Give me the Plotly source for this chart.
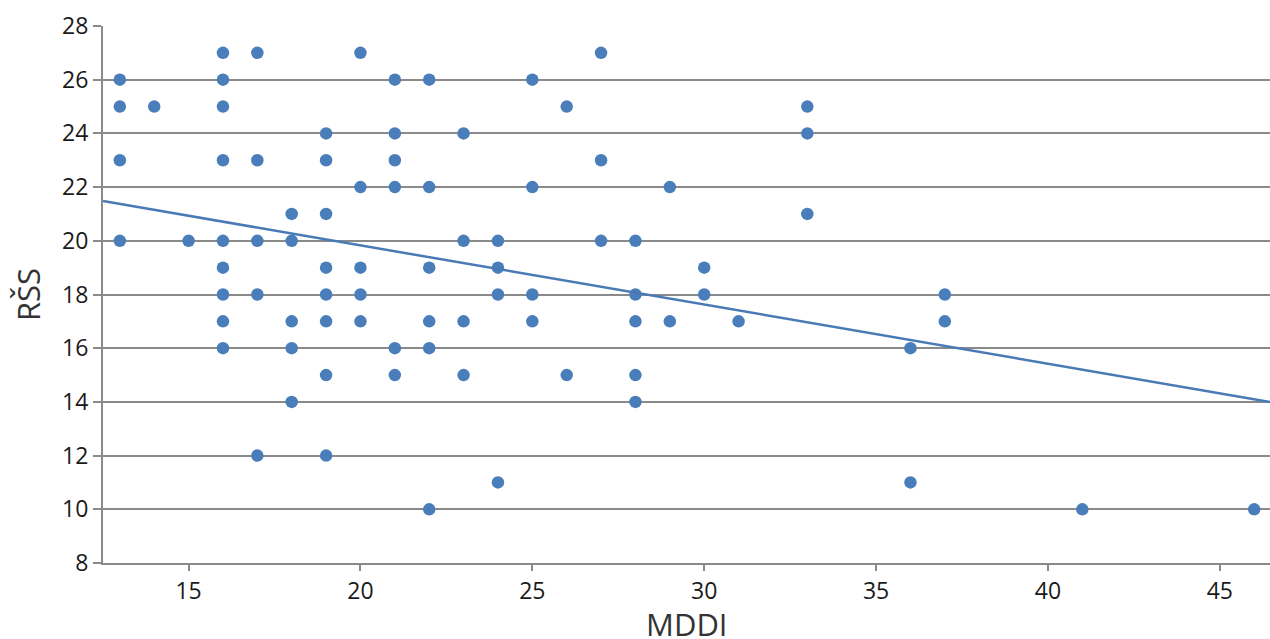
import plotly.graph_objects as go

# MDDI (x) and RŠS (y) observations
mddi = [13, 13, 13, 13,
        14,
        15,
        16, 16, 16, 16, 16, 16, 16, 16, 16,
        17, 17, 17, 17, 17,
        18, 18, 18, 18, 18,
        19, 19, 19, 19, 19, 19, 19, 19,
        20, 20, 20, 20, 20,
        21, 21, 21, 21, 21, 21,
        22, 22, 22, 22, 22, 22,
        23, 23, 23, 23,
        24, 24, 24, 24,
        25, 25, 25, 25,
        26, 26,
        27, 27, 27,
        28, 28, 28, 28, 28,
        29, 29,
        30, 30,
        31,
        33, 33, 33,
        36, 36,
        37, 37,
        41,
        46]
rss = [26, 25, 23, 20,
       25,
       20,
       27, 26, 25, 23, 20, 19, 18, 17, 16,
       27, 23, 20, 18, 12,
       21, 20, 17, 16, 14,
       24, 23, 21, 19, 18, 17, 15, 12,
       27, 22, 19, 18, 17,
       26, 24, 23, 22, 16, 15,
       26, 22, 19, 17, 16, 10,
       24, 20, 17, 15,
       20, 19, 18, 11,
       26, 22, 18, 17,
       25, 15,
       27, 23, 20,
       20, 18, 17, 15, 14,
       22, 17,
       19, 18,
       17,
       25, 24, 21,
       16, 11,
       18, 17,
       10,
       10]

# Linear trend line end points
trend_x = [12.51, 46.46]
trend_y = [21.48, 14.0]

x_ticks = [15, 20, 25, 30, 35, 40, 45]
y_ticks = [8, 10, 12, 14, 16, 18, 20, 22, 24, 26, 28]

blue = "#4a7ebb"
grid = "#8a8a8a"
font_family = "Open Sans, Noto Sans, sans-serif"

fig = go.Figure()
fig.add_trace(go.Scatter(
    x=mddi, y=rss, mode="markers",
    marker=dict(color=blue, size=12.5, line=dict(width=0)),
    showlegend=False, cliponaxis=False,
))
fig.add_trace(go.Scatter(
    x=trend_x, y=trend_y, mode="lines",
    line=dict(color="#4a7ab5", width=2.5),
    showlegend=False,
))

fig.update_layout(
    width=1270, height=639,
    margin=dict(l=103, r=0, t=26, b=76),
    paper_bgcolor="white", plot_bgcolor="white",
    font=dict(family=font_family, color="#1a1a1a", size=23),
    xaxis=dict(
        range=[12.51, 46.46], tickvals=x_ticks,
        showgrid=False, zeroline=False,
        showline=True, linecolor=grid, linewidth=2,
        ticks="outside", ticklen=6, tickcolor=grid, tickwidth=1.5,
        tickfont=dict(size=23),
        automargin=False,
    ),
    yaxis=dict(
        range=[8, 28], tickvals=y_ticks,
        showgrid=True, gridcolor=grid, gridwidth=1.5,
        zeroline=False,
        showline=True, linecolor=grid, linewidth=2,
        ticks="outside", ticklen=8, tickcolor=grid, tickwidth=1.5,
        tickfont=dict(size=23),
        title=dict(text="RŠS", font=dict(size=31, color="#333333"), standoff=12),
        automargin=False,
    ),
    annotations=[dict(
        text="MDDI", xref="paper", yref="paper", x=0.5, y=0,
        xanchor="center", yanchor="middle", yshift=-61, showarrow=False,
        font=dict(size=31, color="#333333"),
    )],
)

fig.write_html("out.html")
